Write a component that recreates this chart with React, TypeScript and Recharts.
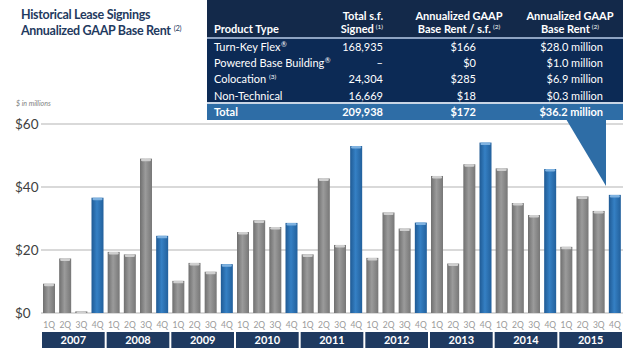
import React from 'react';
import { BarChart, Bar, XAxis, YAxis, CartesianGrid } from 'recharts';

const years = ['2007', '2008', '2009', '2010', '2011', '2012', '2013', '2014', '2015'];
const quarters = ['1Q', '2Q', '3Q', '4Q'];
const rentValues = [
  9.3, 17.3, 0.5, 36.6,
  19.4, 18.6, 49.0, 24.5,
  10.2, 15.9, 13.1, 15.5,
  25.7, 29.4, 27.3, 28.6,
  18.6, 42.7, 21.6, 53.0,
  17.5, 31.9, 26.8, 28.7,
  43.5, 15.7, 47.2, 54.1,
  45.9, 34.9, 31.1, 45.7,
  21.0, 37.0, 32.4, 37.5,
];
const yTicks = [0, 20, 40, 60];

const tableHeader = ['Product Type', 'Total s.f.|Signed', 'Annualized GAAP|Base Rent / s.f.', 'Annualized GAAP|Base Rent'];
const productTypes = ['Turn-Key Flex', 'Powered Base Building', 'Colocation', 'Non-Technical'];
const productMarks = ['®', '®', '', ''];
const productNotes = ['', '', '(3)', ''];
const sfSigned = ['168,935', '–', '24,304', '16,669'];
const rentPerSf = ['$166', '$0', '$285', '$18'];
const rentTotal = ['$28.0 million', '$1.0 million', '$6.9 million', '$0.3 million'];
const totalRow = ['Total', '209,938', '$172', '$36.2 million'];

const data = years.flatMap((y, i) =>
  quarters.map((q, j) => ({ key: `${y}-${q}`, year: y, q, rent: rentValues[i * 4 + j] }))
);

const W = 640;
const H = 351;
const PLOT_LEFT = 41;
const PLOT_RIGHT = 623;
const BAND = (PLOT_RIGHT - PLOT_LEFT) / data.length;
const FONT = 'Lato, "Open Sans", sans-serif';
const NAVY = '#1f3a60';

const BarShape = (props: any) => {
  const { x, y, width, height, payload } = props;
  if (!height || height <= 0) return null;
  const blue = payload.q === '4Q';
  const id = blue ? 'gBlue' : 'gGray';
  return (
    <g>
      <defs>
        <linearGradient id="gGray" x1="0" y1="0" x2="1" y2="0">
          <stop offset="0" stopColor="#6f6f6f" />
          <stop offset="0.45" stopColor="#9b9b9b" />
          <stop offset="1" stopColor="#777777" />
        </linearGradient>
        <linearGradient id="gBlue" x1="0" y1="0" x2="1" y2="0">
          <stop offset="0" stopColor="#1f5a94" />
          <stop offset="0.45" stopColor="#3580c4" />
          <stop offset="1" stopColor="#22609c" />
        </linearGradient>
      </defs>
      <rect x={x} y={y} width={width} height={height} fill={`url(#${id})`} />
      <rect x={x + 1} y={y} width={Math.max(width - 2, 0)} height={Math.min(2.5, height)} rx={1.2} fill={blue ? '#7fb2e0' : '#cfcfcf'} />
    </g>
  );
};

const XTick = (props: any) => {
  const { x, y, index } = props;
  const d = data[index];
  if (!d) return null;
  const els: any[] = [
    <text key="q" x={x} y={y + 7} textAnchor="middle" fontSize={8.5} fill="#9a9a9a" fontFamily={FONT}>
      {d.q}
    </text>,
  ];
  if (d.q === '1Q') {
    const x0 = x - BAND / 2;
    const w = BAND * 4;
    els.push(
      <rect key="r" x={x0 + 1} y={332} width={w - 2} height={16} fill={NAVY} />,
      <text key="t" x={x0 + w / 2} y={344} textAnchor="middle" fontSize={11} fontWeight={700} fill="#ffffff" fontFamily={FONT}>
        {d.year}
      </text>
    );
  }
  return <g>{els}</g>;
};

const YTick = (props: any) => {
  const { y, payload } = props;
  return (
    <text x={15} y={y + 5} textAnchor="start" fontSize={13.5} fill="#404040" fontFamily={FONT}>
      {`$${payload.value}`}
    </text>
  );
};

const Sup = ({ t, size = 6.5, ml = 2 }: { t: string; size?: number; ml?: number }) => (
  <span style={{ fontSize: size, position: 'relative', top: -4, marginLeft: ml, fontWeight: 400, lineHeight: 0 }}>{t}</span>
);

const cellStyle = (left: number, width: number, top: number, align: 'left' | 'right' | 'center', bold = false): React.CSSProperties => ({
  position: 'absolute',
  left,
  width,
  top,
  height: 14,
  lineHeight: '14px',
  textAlign: align,
  fontSize: 11,
  fontWeight: bold ? 700 : 400,
  color: '#ffffff',
  whiteSpace: 'nowrap',
  fontFamily: FONT,
});

const rowTops = [40, 56, 72, 89];

const Table = () => {
  const [h1, h2, h3, h4] = tableHeader.map((s) => s.split('|'));
  return (
    <div style={{ position: 'absolute', left: 207, top: 0, width: 416, height: 120 }}>
      <div style={{ position: 'absolute', left: 0, top: 0, width: 416, height: 37, background: '#13294a' }} />
      <div style={{ position: 'absolute', left: 0, top: 37, width: 416, height: 2, background: '#8ea3c2' }} />
      <div style={{ position: 'absolute', left: 0, top: 39, width: 416, height: 63, background: '#0c2a55' }} />
      <div style={{ position: 'absolute', left: 0, top: 102, width: 416, height: 1.5, background: '#c9d6e6' }} />
      <div style={{ position: 'absolute', left: 0, top: 103.5, width: 416, height: 16.5, background: '#2e6da6' }} />
      <div style={{ ...cellStyle(7, 120, 22, 'left', true) }}>{h1[0]}</div>
      <div style={{ ...cellStyle(96, 80, 9, 'right', true) }}>{h2[0]}</div>
      <div style={{ ...cellStyle(96, 80, 22, 'right', true) }}>
        {h2[1]}
        <Sup t="(1)" />
      </div>
      <div style={{ ...cellStyle(192, 120, 9, 'center', true) }}>{h3[0]}</div>
      <div style={{ ...cellStyle(192, 120, 22, 'center', true) }}>
        {h3[1]}
        <Sup t="(2)" />
      </div>
      <div style={{ ...cellStyle(303, 120, 9, 'center', true) }}>{h4[0]}</div>
      <div style={{ ...cellStyle(303, 120, 22, 'center', true) }}>
        {h4[1]}
        <Sup t="(2)" />
      </div>
      {productTypes.map((p, i) => (
        <React.Fragment key={p}>
          <div style={cellStyle(7, 150, rowTops[i], 'left')}>
            {p}
            {productMarks[i] ? <Sup t={productMarks[i]} size={7} ml={0.5} /> : null}
            {productNotes[i] ? <Sup t={productNotes[i]} ml={3} /> : null}
          </div>
          <div style={cellStyle(96, 80, rowTops[i], 'right')}>{sfSigned[i]}</div>
          <div style={cellStyle(190, 79, rowTops[i], 'right')}>{rentPerSf[i]}</div>
          <div style={cellStyle(280, 116, rowTops[i], 'right')}>{rentTotal[i]}</div>
        </React.Fragment>
      ))}
      <div style={cellStyle(7, 150, 105, 'left', true)}>{totalRow[0]}</div>
      <div style={cellStyle(96, 80, 105, 'right', true)}>{totalRow[1]}</div>
      <div style={cellStyle(190, 79, 105, 'right', true)}>{totalRow[2]}</div>
      <div style={cellStyle(280, 116, 105, 'right', true)}>{totalRow[3]}</div>
    </div>
  );
};

export default function App() {
  return (
    <div style={{ position: 'absolute', left: 0, top: 0, width: W, height: H, background: '#ffffff', overflow: 'hidden', fontFamily: FONT }}>
      <div style={{ position: 'absolute', left: 21, top: 7, color: NAVY, fontWeight: 700, fontSize: 12.5, letterSpacing: -0.3, lineHeight: '16px', whiteSpace: 'nowrap' }}>
        Historical Lease Signings
        <br />
        Annualized GAAP Base Rent
        <Sup t="(2)" size={7.5} ml={3} />
      </div>
      <div style={{ position: 'absolute', left: 16, top: 99, fontSize: 7, fontStyle: 'italic', color: '#7f7f7f', whiteSpace: 'nowrap' }}>
        $ in millions
      </div>
      <div style={{ position: 'absolute', left: 0, top: 0 }}>
        <BarChart width={W} height={H} data={data} margin={{ top: 124, right: W - PLOT_RIGHT, left: 0, bottom: 0 }} barCategoryGap={0}>
          <CartesianGrid horizontal vertical={false} stroke="#d9d9d9" strokeWidth={2} />
          <XAxis dataKey="key" interval={0} height={38} axisLine={false} tickLine={false} tick={<XTick />} />
          <YAxis width={PLOT_LEFT} domain={[0, 60]} ticks={yTicks} axisLine={false} tickLine={false} tick={<YTick />} />
          <Bar dataKey="rent" barSize={12} isAnimationActive={false} shape={<BarShape />} />
        </BarChart>
      </div>
      <Table />
      <svg style={{ position: 'absolute', left: 0, top: 0 }} width={W} height={H} pointerEvents="none">
        <polygon points="566,119 606,119 606,186" fill="#2e6da6" />
      </svg>
    </div>
  );
}
